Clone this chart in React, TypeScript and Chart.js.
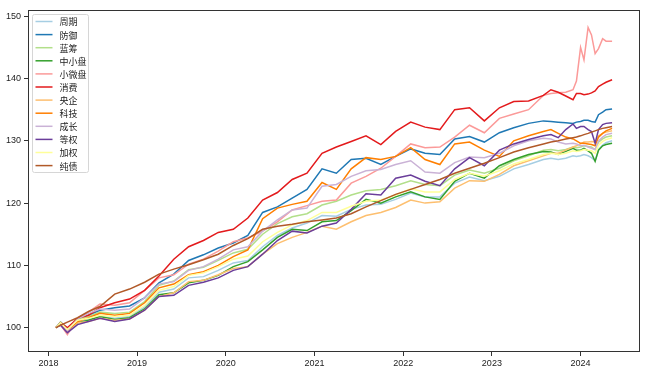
import React, { useEffect, useRef } from "react";
import { Chart, registerables } from "chart.js";

Chart.register(...registerables);

const DATES = [
  "2018-02-01", "2018-02-20", "2018-03-20", "2018-05-01", "2018-06-15", "2018-08-01", "2018-10-01", "2018-12-01",
  "2019-02-01", "2019-04-01", "2019-06-01", "2019-08-01", "2019-10-01", "2019-12-01",
  "2020-02-01", "2020-04-01", "2020-06-01", "2020-08-01", "2020-10-01", "2020-12-01",
  "2021-02-01", "2021-04-01", "2021-06-01", "2021-08-01", "2021-10-01", "2021-12-01",
  "2022-02-01", "2022-04-01", "2022-06-01", "2022-08-01", "2022-10-01", "2022-12-01",
  "2023-02-01", "2023-04-01", "2023-06-01", "2023-08-01", "2023-09-01", "2023-10-01", "2023-11-01", "2023-12-01", "2023-12-15",
  "2024-01-01", "2024-01-15", "2024-02-01", "2024-02-15", "2024-03-01", "2024-03-15", "2024-04-01", "2024-04-15", "2024-05-10",
];

const SERIES_NAMES = ["周期", "防御", "蓝筹", "中小盘", "小微盘", "消费", "央企", "科技", "成长", "等权", "加权", "纯债"];
const SERIES_COLORS = ["#a6cee3", "#1f78b4", "#b2df8a", "#33a02c", "#fb9a99", "#e31a1c", "#fdbf6f", "#ff7f00", "#cab2d6", "#6a3d9a", "#ffff99", "#b15928"];

const ZHOUQI = [100.0, 100.7, 99.6, 101.0, 101.3, 101.8, 101.5, 101.8, 103.3, 105.7, 106.2, 108.0, 108.2, 109.2, 110.4, 110.8, 113.0, 114.8, 116.0, 116.8, 118.0, 117.9, 119.0, 119.7, 119.8, 120.6, 121.6, 121.0, 121.0, 123.2, 124.2, 123.6, 124.3, 125.5, 126.2, 127.0, 127.2, 127.0, 127.2, 127.6, 127.5, 127.6, 127.8, 127.6, 127.3, 126.8, 128.6, 129.3, 129.7, 130.0];
const FANGYU = [100.0, 100.9, 99.9, 101.4, 102.0, 102.8, 103.2, 103.5, 104.8, 107.2, 108.6, 110.8, 111.7, 112.8, 113.6, 114.8, 118.5, 119.4, 120.8, 122.2, 125.5, 124.8, 127.0, 127.2, 126.2, 127.5, 128.7, 128.0, 127.8, 130.3, 130.7, 129.8, 131.3, 132.1, 132.8, 133.2, 133.1, 133.0, 132.9, 132.8, 133.0, 133.1, 133.3, 133.3, 133.1, 133.0, 134.2, 134.6, 135.0, 135.1];
const LANCHOU = [100.0, 100.9, 99.9, 101.4, 101.8, 102.5, 102.3, 102.5, 104.2, 106.8, 107.5, 109.3, 109.7, 110.8, 112.0, 112.6, 115.0, 116.7, 117.8, 118.3, 119.7, 120.3, 121.3, 122.0, 122.2, 122.8, 123.6, 123.0, 122.8, 124.5, 125.3, 124.8, 125.6, 126.8, 127.6, 128.5, 128.6, 128.4, 128.6, 129.0, 128.9, 129.0, 129.2, 129.1, 129.0, 128.6, 129.8, 130.3, 130.6, 130.8];
const ZHONGXIAO = [100.0, 100.5, 99.5, 100.8, 101.2, 101.8, 101.3, 101.6, 103.0, 105.3, 105.6, 107.2, 107.6, 108.4, 109.8, 110.6, 112.5, 114.5, 115.8, 115.6, 117.0, 117.2, 118.8, 120.6, 120.0, 121.0, 121.8, 121.0, 120.6, 123.5, 124.8, 124.0, 126.0, 127.0, 127.8, 128.3, 128.2, 127.8, 128.3, 128.8, 128.5, 128.5, 128.8, 128.4, 128.0, 126.7, 128.5, 129.2, 129.4, 129.6];
const XIAOWEI = [100.0, 100.5, 98.9, 101.5, 102.5, 103.8, 103.6, 104.0, 106.0, 108.0, 108.5, 110.2, 111.0, 112.3, 113.8, 114.4, 115.5, 117.0, 118.9, 119.6, 120.3, 120.5, 123.2, 124.3, 125.6, 127.5, 129.5, 128.9, 129.0, 130.6, 132.5, 131.3, 133.6, 134.3, 135.0, 137.3, 137.6, 137.7, 137.8, 138.2, 139.6, 145.0, 143.0, 148.2, 147.0, 144.0, 144.8, 146.4, 146.0, 146.0];
const XIAOFEI = [100.0, 100.8, 100.0, 101.5, 102.0, 103.2, 104.0, 104.6, 106.0, 108.3, 111.0, 113.0, 114.0, 115.3, 115.8, 117.6, 120.5, 121.7, 123.8, 124.8, 128.0, 129.0, 129.9, 130.8, 129.4, 131.5, 133.0, 132.2, 131.8, 135.0, 135.3, 133.2, 135.3, 136.3, 136.4, 137.3, 138.2, 137.8, 137.2, 136.6, 137.6, 137.6, 137.4, 137.5, 137.7, 138.0, 138.7, 139.1, 139.4, 139.8];
const YANGQI = [100.0, 100.6, 99.4, 100.8, 101.0, 101.5, 101.2, 101.4, 102.8, 105.0, 105.6, 107.4, 107.6, 108.5, 109.5, 109.8, 111.8, 113.5, 114.5, 115.3, 116.3, 115.8, 117.0, 118.0, 118.5, 119.3, 120.5, 120.0, 120.2, 122.4, 123.6, 123.5, 124.6, 126.0, 126.8, 127.6, 128.0, 128.0, 128.5, 129.0, 129.2, 129.5, 129.8, 129.8, 129.9, 129.8, 130.8, 131.2, 131.4, 131.6];
const KEJI = [100.0, 100.6, 99.6, 101.0, 101.6, 102.3, 102.0, 102.3, 104.0, 106.4, 107.0, 108.5, 109.0, 110.0, 111.4, 112.5, 117.5, 119.2, 119.8, 120.3, 123.3, 122.2, 125.5, 127.3, 127.0, 127.5, 128.9, 127.0, 126.2, 129.5, 129.8, 128.5, 127.5, 130.0, 130.8, 131.5, 131.8, 131.2, 130.6, 130.3, 130.0, 129.6, 129.6, 129.5, 129.4, 129.2, 130.6, 131.2, 131.6, 132.0];
const CHENGZHANG = [100.0, 100.7, 99.5, 101.4, 102.3, 103.0, 102.8, 103.0, 104.8, 107.0, 107.4, 109.2, 109.8, 111.0, 112.5, 113.0, 115.5, 117.3, 118.9, 119.2, 122.7, 123.0, 124.3, 125.2, 125.4, 126.2, 126.8, 125.0, 124.8, 126.5, 127.4, 127.3, 128.0, 129.2, 130.0, 130.4, 130.3, 129.8, 129.5, 129.6, 129.5, 129.2, 129.3, 129.0, 128.8, 128.6, 130.0, 130.6, 131.0, 131.2];
const DENGQUAN = [100.0, 100.4, 99.2, 100.5, 101.0, 101.5, 101.0, 101.4, 102.8, 105.0, 105.2, 106.8, 107.3, 108.0, 109.2, 109.8, 111.8, 114.0, 115.5, 115.2, 116.3, 116.8, 119.0, 121.5, 121.3, 124.0, 124.5, 123.5, 122.8, 125.5, 127.3, 126.0, 128.5, 129.5, 130.2, 130.8, 131.0, 130.5, 131.8, 132.7, 132.0, 132.3, 132.3, 131.8, 131.5, 129.6, 131.8, 132.6, 132.8, 132.9];
const JIAQUAN = [100.0, 100.8, 99.7, 101.2, 101.5, 102.0, 101.8, 102.0, 103.6, 106.0, 106.6, 108.4, 108.8, 109.8, 111.0, 111.5, 113.8, 115.3, 116.5, 117.2, 118.5, 118.5, 119.5, 120.3, 120.5, 121.3, 122.3, 121.8, 121.8, 123.8, 124.8, 124.3, 125.2, 126.3, 127.0, 127.8, 128.0, 127.8, 128.0, 128.4, 128.3, 128.4, 128.6, 128.5, 128.4, 128.0, 129.3, 129.9, 130.2, 130.5];
const CHUNZHAI = [100.0, 100.4, 100.9, 101.6, 102.6, 103.4, 105.4, 106.2, 107.3, 108.6, 109.4, 110.1, 110.9, 111.8, 113.2, 114.3, 115.8, 116.3, 116.6, 117.0, 117.3, 117.6, 118.3, 119.4, 120.4, 121.4, 122.2, 123.0, 123.8, 124.8, 125.6, 126.4, 127.3, 128.2, 128.9, 129.5, 129.8, 130.0, 130.3, 130.5, 130.6, 130.8, 131.0, 131.2, 131.4, 131.6, 131.8, 132.0, 132.1, 132.3];

const SERIES_VALUES = [ZHOUQI, FANGYU, LANCHOU, ZHONGXIAO, XIAOWEI, XIAOFEI, YANGQI, KEJI, CHENGZHANG, DENGQUAN, JIAQUAN, CHUNZHAI];

const X_TICKS = [2018, 2019, 2020, 2021, 2022, 2023, 2024];
const Y_TICKS = [100, 110, 120, 130, 140, 150];

function toYear(d: string): number {
  const [y, m, dd] = d.split("-").map(Number);
  const start = Date.UTC(y, 0, 1);
  const end = Date.UTC(y + 1, 0, 1);
  return y + (Date.UTC(y, m - 1, dd) - start) / (end - start);
}

const TICK_FONT = { family: "'Liberation Sans', 'Noto Sans CJK SC', sans-serif", size: 9 };

const framePlugin = {
  id: "mplFrame",
  afterDatasetsDraw(chart: any) {
    const { ctx, chartArea } = chart;
    ctx.save();
    ctx.strokeStyle = "#333333";
    ctx.lineWidth = 1;
    ctx.strokeRect(
      Math.round(chartArea.left) + 0.5,
      Math.round(chartArea.top) + 0.5,
      Math.round(chartArea.right - chartArea.left) - 1,
      Math.round(chartArea.bottom - chartArea.top) - 1
    );
    ctx.restore();
  },
};

const legendPlugin = {
  id: "mplLegend",
  afterDraw(chart: any) {
    const { ctx, chartArea } = chart;
    const x0 = chartArea.left + 4.5;
    const y0 = chartArea.top + 4.5;
    const w = 56;
    const h = 158;
    const r = 2;
    ctx.save();
    ctx.beginPath();
    ctx.moveTo(x0 + r, y0);
    ctx.lineTo(x0 + w - r, y0);
    ctx.arcTo(x0 + w, y0, x0 + w, y0 + r, r);
    ctx.lineTo(x0 + w, y0 + h - r);
    ctx.arcTo(x0 + w, y0 + h, x0 + w - r, y0 + h, r);
    ctx.lineTo(x0 + r, y0 + h);
    ctx.arcTo(x0, y0 + h, x0, y0 + h - r, r);
    ctx.lineTo(x0, y0 + r);
    ctx.arcTo(x0, y0, x0 + r, y0, r);
    ctx.closePath();
    ctx.fillStyle = "rgba(255,255,255,0.85)";
    ctx.fill();
    ctx.strokeStyle = "#d6d6d6";
    ctx.lineWidth = 1;
    ctx.stroke();
    ctx.font = "9px 'Noto Sans CJK SC', sans-serif";
    ctx.textBaseline = "middle";
    chart.data.datasets.forEach((ds: any, i: number) => {
      const cy = y0 + 7 + i * 13.1;
      ctx.strokeStyle = ds.borderColor;
      ctx.lineWidth = 1.5;
      ctx.beginPath();
      ctx.moveTo(x0 + 3, cy);
      ctx.lineTo(x0 + 20, cy);
      ctx.stroke();
      ctx.fillStyle = "#222222";
      ctx.fillText(ds.label, x0 + 27, cy + 0.5);
    });
    ctx.restore();
  },
};

export default function App() {
  const canvasRef = useRef<HTMLCanvasElement | null>(null);

  useEffect(() => {
    const canvas = canvasRef.current;
    if (!canvas) return;
    const xs = DATES.map(toYear);
    const datasets = SERIES_NAMES.map((name, i) => ({
      label: name,
      data: SERIES_VALUES[i].map((v, j) => ({ x: xs[j], y: v })),
      borderColor: SERIES_COLORS[i],
      backgroundColor: SERIES_COLORS[i],
      borderWidth: 1.5,
      pointRadius: 0,
      tension: 0,
      fill: false,
      order: SERIES_NAMES.length - i,
    }));

    const chart = new Chart(canvas, {
      type: "line",
      data: { datasets },
      options: {
        responsive: false,
        animation: false,
        devicePixelRatio: 1,
        layout: { padding: { top: 10, right: 9, left: 0, bottom: 0 } },
        plugins: { legend: { display: false }, tooltip: { enabled: false } },
        scales: {
          x: {
            type: "linear",
            min: 2017.77,
            max: 2024.67,
            afterBuildTicks: (scale: any) => {
              scale.ticks = X_TICKS.map((v) => ({ value: v }));
            },
            afterFit: (scale: any) => {
              scale.height = 25;
            },
            ticks: {
              autoSkip: false,
              maxRotation: 0,
              padding: 2,
              color: "#222222",
              font: TICK_FONT,
              callback: (v: any) => String(v),
            },
            grid: { display: true, drawOnChartArea: false, drawTicks: true, tickLength: 4, color: "#333333", lineWidth: 1 },
            border: { display: false },
          },
          y: {
            type: "linear",
            min: 96.1,
            max: 151.0,
            afterBuildTicks: (scale: any) => {
              scale.ticks = Y_TICKS.map((v) => ({ value: v }));
            },
            afterFit: (scale: any) => {
              scale.width = 28;
            },
            ticks: {
              autoSkip: false,
              padding: 3,
              color: "#222222",
              font: TICK_FONT,
              callback: (v: any) => String(v),
            },
            grid: { display: true, drawOnChartArea: false, drawTicks: true, tickLength: 4, color: "#333333", lineWidth: 1 },
            border: { display: false },
          },
        },
      },
      plugins: [framePlugin, legendPlugin],
    });

    return () => {
      chart.destroy();
    };
  }, []);

  return (
    <div style={{ position: "fixed", left: 0, top: 0, width: 649, height: 377, background: "#ffffff" }}>
      <canvas ref={canvasRef} width={649} height={377} style={{ display: "block", width: 649, height: 377 }} />
    </div>
  );
}
